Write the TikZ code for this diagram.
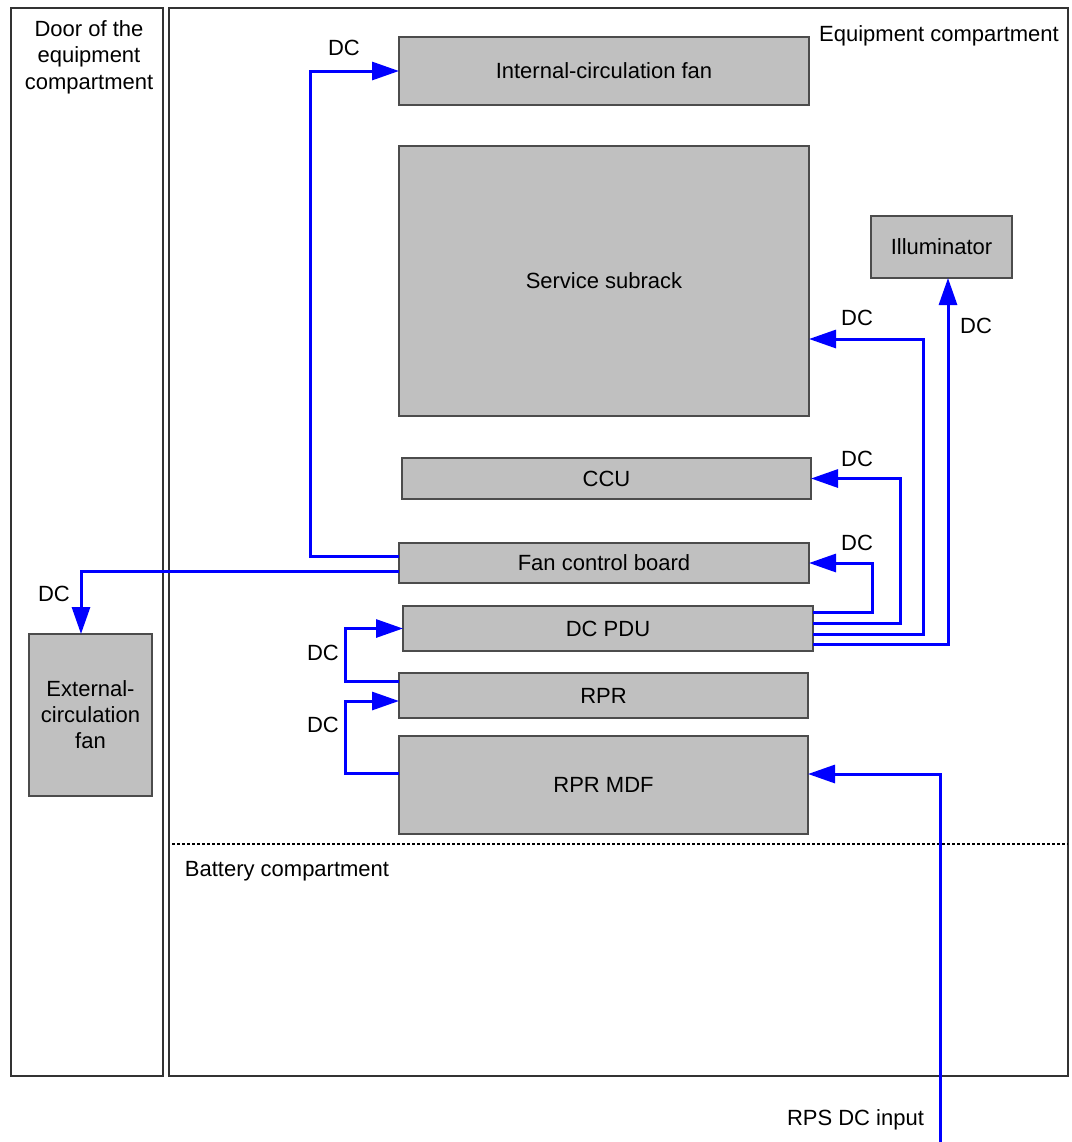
\documentclass[tikz,border=0pt]{standalone}
\usepackage{fontspec}
\setmainfont{Liberation Sans}
\usetikzlibrary{arrows.meta, positioning}
\definecolor{boxgray}{RGB}{192,192,192}
\definecolor{dcblue}{RGB}{0,0,255}
\tikzset{
    block/.style={rectangle, draw=black!70, fill=boxgray, line width=0.9pt, outer sep=0pt, text centered, minimum width=205pt, font=\fontsize{11}{12}\selectfont, inner sep=2pt},
    frame/.style={draw=black!80, line width=1.4pt},
    dcline/.style={draw=dcblue, line width=1.5pt, -{Triangle[length=13.5pt, width=9pt]}},
    dc/.style={font=\fontsize{11}{12}\selectfont, inner sep=0pt},
    lbl/.style={font=\fontsize{11}{13.3}\selectfont, inner sep=0pt, align=center}
}

\begin{document}
\begin{tikzpicture}[x=0.5pt, y=-0.5pt]
    \useasboundingbox (0,0) rectangle (1072,1142);

    % compartments
    \draw[frame] (11,8) rectangle (163,1076);
    \draw[frame] (169,8) rectangle (1068,1076);
    \draw[black, line width=0.6pt, dash pattern=on 1.5pt off 1pt] (172,844) -- (1068,844);

    \node (door) [lbl] at (89,57) {Door of the\\equipment\\compartment};
    \node (equip) [lbl] at (939,36) {Equipment compartment};
    \node (battery) [lbl] at (287,871) {Battery compartment};

    % boards
    \node (intfan) [block, minimum height=34pt] at (604,71) {Internal-circulation fan};
    \node (subrack) [block, minimum height=135pt, below=20.5pt of intfan] {Service subrack};
    \node (ccu) [block, minimum width=204.5pt, minimum height=20.5pt, below=21pt of subrack, xshift=1.25pt] {CCU};
    \node (fcb) [block, minimum height=20pt, below=22pt of ccu, xshift=-1.25pt] {Fan control board};
    \node (pdu) [block, minimum height=22.5pt, below=11.5pt of fcb, xshift=2pt] {DC PDU};
    \node (rpr) [block, minimum width=204.5pt, minimum height=22.5pt, below=11pt of pdu, xshift=-2.25pt] {RPR};
    \node (mdf) [block, minimum width=204.5pt, minimum height=49pt, below=9pt of rpr] {RPR MDF};
    \node (illum) [block, minimum width=70.5pt, minimum height=31pt] at (941.5,247) {Illuminator};
    \node (extfan) [block, minimum width=61.5pt, minimum height=81pt, align=center, font=\fontsize{11}{13}\selectfont] at (90.5,715) {External-\\circulation\\fan};

    \coordinate (rps) at (940,1142);
    \node (rpsin) [lbl] at (855.5,1120) {RPS DC input};

    % DC feeds
    \draw[dcline] ([yshift=3.5pt]fcb.west) -- ++(-44.5pt,0) |- (intfan.west);
    \draw[dcline] ([yshift=-4pt]fcb.west) -| ([xshift=-4.75pt]extfan.north);
    \draw[dcline] ([yshift=8pt]pdu.east) -- ++(29.5pt,0) |- (fcb.east);
    \draw[dcline] ([yshift=2.75pt]pdu.east) -- ++(43.5pt,0) |- (ccu.east);
    \draw[dcline] ([yshift=-2.75pt]pdu.east) -- ++(55pt,0) |- ([yshift=-29pt]subrack.east);
    \draw[dcline] ([yshift=-8pt]pdu.east) -| ([xshift=3.25pt]illum.south);
    \draw[dcline] ([yshift=7.25pt]rpr.west) -- ++(-27pt,0) |- (pdu.west);
    \draw[dcline] ([yshift=6pt]mdf.west) -- ++(-27pt,0) |- ([yshift=-2.75pt]rpr.west);
    \draw[dcline] (rps) |- ([yshift=5.5pt]mdf.east);

    \node (dc1) [dc] at (344,48) {DC};
    \node (dc2) [dc] at (54,594) {DC};
    \node (dc3) [dc] at (857,318) {DC};
    \node (dc4) [dc] at (857,459) {DC};
    \node (dc5) [dc] at (857,543) {DC};
    \node (dc6) [dc] at (976,326) {DC};
    \node (dc7) [dc] at (323,653) {DC};
    \node (dc8) [dc] at (323,725) {DC};
\end{tikzpicture}
\end{document}
